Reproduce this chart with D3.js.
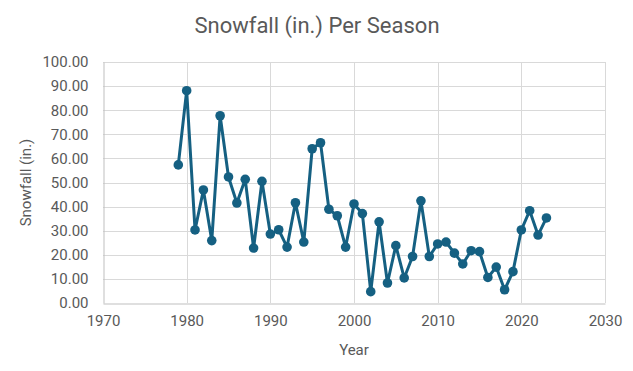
<!DOCTYPE html>
<html>
<head>
<meta charset="utf-8">
<script src="https://cdn.jsdelivr.net/npm/d3@7"></script>
<style>
  body { margin: 0; background: #fff; }
  svg { display: block; }
</style>
</head>
<body>
<svg id="chart" width="633" height="371"></svg>
<script>
const years = [1979,1980,1981,1982,1983,1984,1985,1986,1987,1988,1989,1990,
  1991,1992,1993,1994,1995,1996,1997,1998,1999,2000,2001,2002,2003,2004,2005,
  2006,2007,2008,2009,2010,2011,2012,2013,2014,2015,2016,2017,2018,2019,2020,
  2021,2022,2023];
const snowfall = [57.3,88.1,30.3,46.9,25.9,77.7,52.3,41.5,51.3,22.8,50.5,28.6,
  30.4,23.2,41.6,25.3,64.0,66.5,38.9,36.2,23.2,41.1,37.1,4.7,33.7,8.3,23.8,
  10.4,19.3,42.4,19.3,24.5,25.3,20.7,16.2,21.7,21.3,10.6,14.9,5.5,13.0,30.3,
  38.3,28.2,35.3];
const xTicks = [1970,1980,1990,2000,2010,2020,2030];
const yTicks = [0,10,20,30,40,50,60,70,80,90,100];
const title = "Snowfall (in.) Per Season";
const xTitle = "Year";
const yTitle = "Snowfall (in.)";

(function(){
const data = years.map((yr,i) => ({year: yr, value: snowfall[i]}));
const svg = d3.select("#chart");
const mLeft = 103, mRight = 605, mTop = 62, mBottom = 303;
const font = "Roboto, 'Liberation Sans', sans-serif";
const textColor = "#595959";

const x = d3.scaleLinear().domain([1970,2030]).range([mLeft,mRight]);
const y = d3.scaleLinear().domain([0,100]).range([mBottom,mTop]);

// gridlines
svg.append("g").selectAll("line").data(yTicks.filter(d=>d>0)).join("line")
  .attr("x1", mLeft).attr("x2", mRight)
  .attr("y1", d=>Math.round(y(d))+0.5).attr("y2", d=>Math.round(y(d))+0.5)
  .attr("stroke", "#d9d9d9").attr("stroke-width", 1);
svg.append("g").selectAll("line").data(xTicks.filter(d=>d>1970)).join("line")
  .attr("y1", mTop).attr("y2", mBottom)
  .attr("x1", d=>Math.round(x(d))+0.5).attr("x2", d=>Math.round(x(d))+0.5)
  .attr("stroke", "#d9d9d9").attr("stroke-width", 1);

// axes
const xAxis = d3.axisBottom(x).tickValues(xTicks).tickSize(0).tickPadding(12).tickFormat(d3.format("d"));
const gx = svg.append("g").attr("transform", `translate(0,${Math.round(mBottom)+0.5})`).call(xAxis);
gx.select(".domain").attr("stroke", "#bfbfbf");
gx.selectAll("text").attr("font-family", font).attr("font-size", 15).attr("fill", textColor);

const yAxis = d3.axisLeft(y).tickValues(yTicks).tickSize(0).tickPadding(15).tickFormat(d3.format(".2f"));
const gy = svg.append("g").attr("transform", `translate(${Math.round(mLeft)+0.5},0)`).call(yAxis);
gy.select(".domain").attr("stroke", "#bfbfbf");
gy.selectAll("text").attr("font-family", font).attr("font-size", 15).attr("fill", textColor);

// line
const line = d3.line().x(d=>x(d.year)).y(d=>y(d.value));
svg.append("path").datum(data).attr("d", line)
  .attr("fill", "none").attr("stroke", "#156082").attr("stroke-width", 3)
  .attr("stroke-linejoin", "round");
svg.append("g").selectAll("circle").data(data).join("circle")
  .attr("cx", d=>x(d.year)).attr("cy", d=>y(d.value)).attr("r", 4.8)
  .attr("fill", "#156082");

// titles
svg.append("text").attr("x", 317).attr("y", 33).attr("text-anchor", "middle")
  .attr("font-family", font).attr("font-size", 22).attr("fill", textColor).text(title);
svg.append("text").attr("x", (mLeft+mRight)/2).attr("y", 355).attr("text-anchor", "middle")
  .attr("font-family", font).attr("font-size", 15).attr("fill", textColor).text(xTitle);
svg.append("text").attr("transform", `translate(31,${(mTop+mBottom)/2}) rotate(-90)`)
  .attr("text-anchor", "middle")
  .attr("font-family", font).attr("font-size", 15).attr("fill", textColor).text(yTitle);
})();
</script>
</body>
</html>
